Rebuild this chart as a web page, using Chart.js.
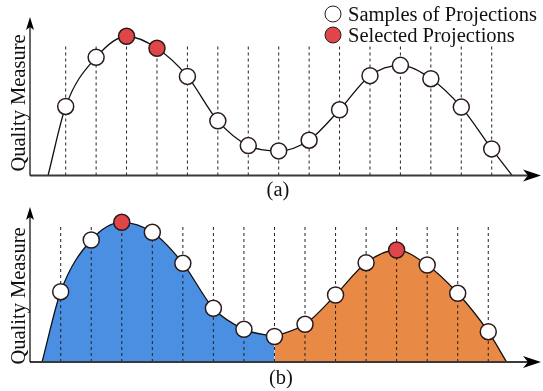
<!DOCTYPE html>
<html>
<head>
<meta charset="utf-8">
<script src="https://cdn.jsdelivr.net/npm/chart.js@4.4.0/dist/chart.umd.min.js"></script>
<style>
  body { margin: 0; background: #fff; }
  #wrap { position: relative; width: 543px; height: 391px; font-family: 'Liberation Serif', 'DejaVu Serif', serif; color: #111; }
  canvas { position: absolute; left: 0; }
  .lbl { position: absolute; font-size: 20.5px; line-height: 20px; white-space: nowrap; transform: translate(-50%, -50%); }
  .ylbl { position: absolute; font-size: 20.5px; line-height: 20px; white-space: nowrap; transform: translate(-50%, -50%) rotate(-90deg); }
  .dot { position: absolute; width: 15px; height: 15px; border-radius: 50%; border: 1.5px solid #2b1a1a; transform: translate(-50%, -50%); }
  .leg { position: absolute; left: 348px; font-size: 20.5px; line-height: 20px; white-space: nowrap; transform: translateY(-50%); }
</style>
</head>
<body>
<div id="wrap">
  <canvas id="chartA" width="543" height="195" style="top:0"></canvas>
  <canvas id="chartB" width="543" height="196" style="top:195px"></canvas>
  <div class="ylbl" style="left:18px; top:103px">Quality Measure</div>
  <div class="ylbl" style="left:18px; top:296px">Quality Measure</div>
  <div class="lbl" style="left:278px; top:189px">(a)</div>
  <div class="lbl" style="left:281px; top:377px">(b)</div>
  <div class="dot" style="left:333px; top:14px; background:#fff"></div>
  <div class="dot" style="left:333px; top:35px; background:#e0454a"></div>
  <div class="leg" style="top:14px">Samples of Projections</div>
  <div class="leg" style="top:35px">Selected Projections</div>
</div>
<script>
// sample positions along the projection axis
const sampleIdx = [0, 1, 2, 3, 4, 5, 6, 7, 8, 9, 10, 11, 12, 13, 14];

// (a) quality of each sampled projection
const qualityA = [68.8, 117.8, 138.8, 126.8, 98.8, 54.5, 29.8, 24.5, 35.2, 65.5, 99.5, 109.8, 96.5, 68.2, 26.5];
const selectedA = [2, 3];
const curveEndsA = [-0.58, 14.67];

// (b) same measure, split into two regions
const qualityB = [70.3, 122, 139.7, 129.7, 98.7, 53.7, 32.7, 25.5, 37.7, 67, 99.3, 112, 97, 68.7, 30.3];
const selectedB = [2, 11];
const curveEndsB = [-0.61, 14.6];
const splitIdx = 7;

const RED = '#e0454a';
const BLUE = '#4a8fe2';
const ORANGE = '#e88a45';

function curvePoints(q, ends, from, to) {
  const pts = [];
  if (from === 0) pts.push({ x: ends[0], y: 0 });
  for (let i = from; i <= to; i++) pts.push({ x: sampleIdx[i], y: q[i] });
  if (to === sampleIdx.length - 1) pts.push({ x: ends[1], y: 0 });
  return pts;
}

function dashLines(top) {
  const pts = [];
  sampleIdx.forEach(i => {
    pts.push({ x: i, y: 0 }, { x: i, y: top }, { x: i, y: null });
  });
  return pts;
}

const axesPlugin = {
  id: 'arrows',
  afterDraw(chart) {
    const { ctx, chartArea: a } = chart;
    ctx.save();
    // x axis
    ctx.strokeStyle = '#3a3a3a';
    ctx.lineWidth = 2;
    ctx.beginPath();
    ctx.moveTo(a.left, a.bottom);
    ctx.lineTo(a.right - 12, a.bottom);
    ctx.stroke();
    ctx.fillStyle = '#000';
    ctx.beginPath();
    ctx.moveTo(a.right, a.bottom);
    ctx.lineTo(a.right - 18, a.bottom - 6);
    ctx.lineTo(a.right - 13, a.bottom);
    ctx.lineTo(a.right - 18, a.bottom + 6);
    ctx.closePath();
    ctx.fill();
    // y axis
    ctx.strokeStyle = '#000';
    ctx.lineWidth = 1.2;
    ctx.beginPath();
    ctx.moveTo(a.left, a.bottom);
    ctx.lineTo(a.left, a.top + 8);
    ctx.stroke();
    ctx.beginPath();
    ctx.moveTo(a.left, a.top);
    ctx.lineTo(a.left - 4, a.top + 13);
    ctx.lineTo(a.left, a.top + 10);
    ctx.lineTo(a.left + 4, a.top + 13);
    ctx.closePath();
    ctx.fill();
    ctx.restore();
  }
};

function pointSet(q, sel) {
  return {
    type: 'line',
    data: sampleIdx.map(i => ({ x: i, y: q[i] })),
    showLine: false,
    pointRadius: 8,
    pointHoverRadius: 8,
    pointBorderWidth: 1.5,
    pointBorderColor: '#2b1a1a',
    pointBackgroundColor: sampleIdx.map(i => sel.includes(i) ? RED : '#fff'),
    clip: false
  };
}

function options(xMin, xMax, yMax, pad) {
  return {
    responsive: false,
    animation: false,
    layout: { padding: pad, autoPadding: false },
    plugins: { legend: { display: false }, tooltip: { enabled: false } },
    scales: {
      x: { type: 'linear', min: xMin, max: xMax, display: false },
      y: { type: 'linear', min: 0, max: yMax, display: false }
    }
  };
}

const dashStyle = {
  borderColor: '#222',
  borderWidth: 1,
  borderDash: [3, 3],
  pointRadius: 0,
  tension: 0,
  spanGaps: false,
  fill: false
};

new Chart(document.getElementById('chartA'), {
  type: 'line',
  data: {
    datasets: [
      pointSet(qualityA, selectedA),
      {
        data: curvePoints(qualityA, curveEndsA, 0, 14),
        borderColor: '#111', borderWidth: 1.3, pointRadius: 0,
        cubicInterpolationMode: 'monotone', fill: false, clip: false
      },
      Object.assign({ data: dashLines(130.5) }, dashStyle)
    ]
  },
  options: options(-1.173, 15.62, 158, { left: 30, right: 2, top: 17, bottom: 19.5 }),
  plugins: [axesPlugin]
});

new Chart(document.getElementById('chartB'), {
  type: 'line',
  data: {
    datasets: [
      pointSet(qualityB, selectedB),
      Object.assign({ data: dashLines(138) }, dashStyle),
      {
        data: curvePoints(qualityB, curveEndsB, 0, splitIdx),
        borderColor: '#111', borderWidth: 1.3, pointRadius: 0,
        cubicInterpolationMode: 'monotone', fill: 'origin', backgroundColor: BLUE, clip: false
      },
      {
        data: curvePoints(qualityB, curveEndsB, splitIdx, 14),
        borderColor: '#111', borderWidth: 1.3, pointRadius: 0,
        cubicInterpolationMode: 'monotone', fill: 'origin', backgroundColor: ORANGE, clip: false
      }
    ]
  },
  options: options(-1.005, 15.727, 155, { left: 30, right: 2, top: 12, bottom: 29 }),
  plugins: [axesPlugin]
});
</script>
</body>
</html>
